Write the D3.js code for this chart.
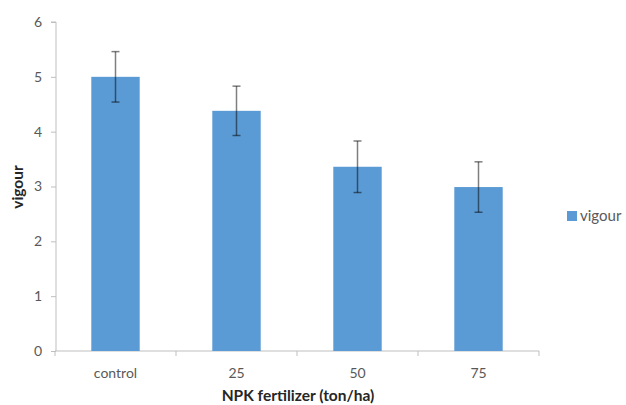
<!DOCTYPE html>
<html><head><meta charset="utf-8">
<script src="https://cdn.jsdelivr.net/npm/d3@7"></script>
<style>body{margin:0;background:#fff;} svg{display:block;}</style>
</head><body>
<script>
const categories = ["control", "25", "50", "75"];
const values = [5.0, 4.38, 3.36, 2.99];
const errors = [0.46, 0.45, 0.47, 0.46];
const yTicks = [0, 1, 2, 3, 4, 5, 6];
const seriesName = "vigour";
const xTitle = "NPK fertilizer (ton/ha)";
const yTitle = "vigour";

const W = 626, H = 405;
const font = "Lato, 'Open Sans', sans-serif";
const svg = d3.select("body").append("svg").attr("width", W).attr("height", H);

const x = d3.scaleBand().domain(categories).range([55, 539]).paddingInner(0.6).paddingOuter(0.3);
const xc = d3.scaleBand().domain(categories).range([55, 539]).padding(0);
const y = d3.scaleLinear().domain([0, 6]).range([351, 22]);

const axisColor = "#bfbfbf";
// y axis
const ya = svg.append("g").attr("transform", "translate(56,0)")
  .call(d3.axisLeft(y).tickValues(yTicks).tickSize(5).tickPadding(9).tickFormat(d3.format("d")));
ya.select(".domain").attr("stroke", axisColor).attr("d", `M-5,${y(6)}H0V${y(0)}`);
ya.selectAll(".tick line").attr("stroke", axisColor);
ya.selectAll("text").attr("fill", "#595959").style("font-family", font).style("font-size", "14px");

// x axis
const xa = svg.append("g").attr("transform", `translate(0,${y(0)})`);
xa.append("path").attr("d", `M55,0H539`).attr("stroke", axisColor).attr("fill", "none");
xa.selectAll("line.tk").data(categories.concat(["end"])).enter().append("line")
  .attr("x1", (d, i) => 55 + i * xc.bandwidth()).attr("x2", (d, i) => 55 + i * xc.bandwidth())
  .attr("y1", 0).attr("y2", 5).attr("stroke", axisColor);
xa.selectAll("text").data(categories).enter().append("text")
  .attr("x", d => xc(d) + xc.bandwidth() / 2).attr("y", 27)
  .attr("text-anchor", "middle").attr("fill", "#595959")
  .style("font-family", font).style("font-size", "14px").text(d => d);

// bars
svg.selectAll("rect.bar").data(categories).enter().append("rect")
  .attr("x", d => x(d)).attr("width", x.bandwidth())
  .attr("y", (d, i) => y(values[i])).attr("height", (d, i) => y(0) - y(values[i]))
  .attr("fill", "#5b9bd5");

// error bars
const eb = svg.selectAll("g.eb").data(categories).enter().append("g")
  .attr("stroke", "#000").attr("stroke-opacity", 0.5).attr("stroke-width", 1.5);
eb.append("line").attr("x1", d => x(d) + x.bandwidth() / 2).attr("x2", d => x(d) + x.bandwidth() / 2)
  .attr("y1", (d, i) => y(values[i] + errors[i])).attr("y2", (d, i) => y(values[i] - errors[i]));
eb.append("line").attr("x1", d => x(d) + x.bandwidth() / 2 - 4).attr("x2", d => x(d) + x.bandwidth() / 2 + 4)
  .attr("y1", (d, i) => y(values[i] + errors[i])).attr("y2", (d, i) => y(values[i] + errors[i]));
eb.append("line").attr("x1", d => x(d) + x.bandwidth() / 2 - 4).attr("x2", d => x(d) + x.bandwidth() / 2 + 4)
  .attr("y1", (d, i) => y(values[i] - errors[i])).attr("y2", (d, i) => y(values[i] - errors[i]));

// titles
svg.append("text").attr("x", 298).attr("y", 401).attr("text-anchor", "middle")
  .attr("fill", "#262626").style("font-family", font).style("font-size", "15.5px").style("font-weight", "bold")
  .text(xTitle);
svg.append("text").attr("transform", "translate(23,187) rotate(-90)").attr("text-anchor", "middle")
  .attr("fill", "#262626").style("font-family", font).style("font-size", "15.5px").style("font-weight", "bold")
  .text(yTitle);

// legend
svg.append("rect").attr("x", 567).attr("y", 211).attr("width", 10).attr("height", 10).attr("fill", "#5b9bd5");
svg.append("text").attr("x", 580).attr("y", 221).attr("fill", "#595959")
  .style("font-family", font).style("font-size", "15px").text(seriesName);
</script>
</body></html>
